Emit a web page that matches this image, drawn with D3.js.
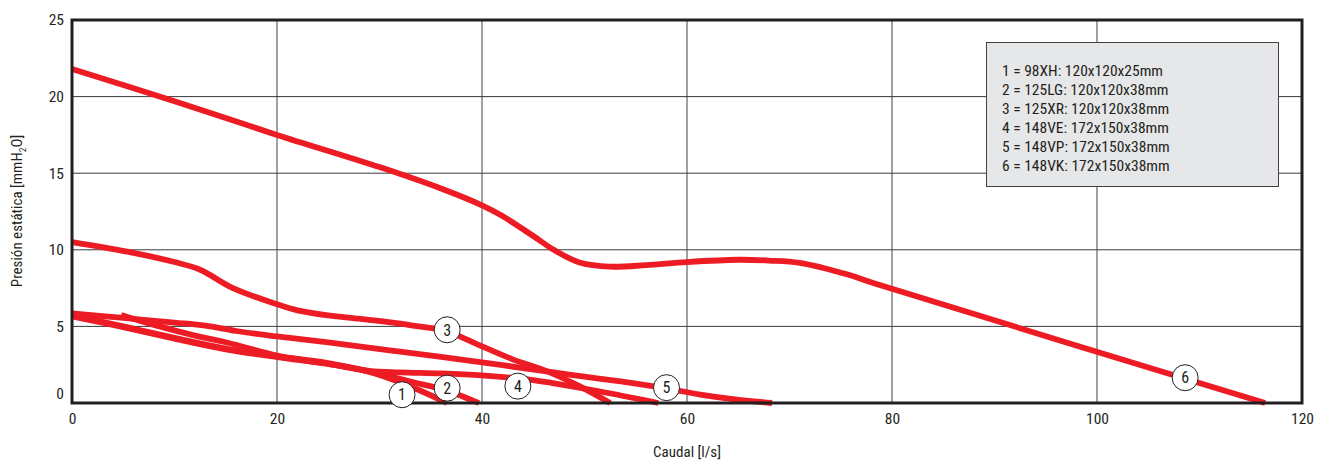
<!DOCTYPE html>
<html><head><meta charset="utf-8">
<script src="https://cdn.jsdelivr.net/npm/d3@7"></script>
<style>
body{margin:0;background:#fff;}
text{font-family:"Roboto Condensed","Liberation Sans Narrow","DejaVu Sans Condensed",Roboto,sans-serif;fill:#231f20;}
</style></head>
<body><svg id="c" width="1329" height="464"></svg>
<script>
const xTicks = [0, 20, 40, 60, 80, 100, 120];
const yTicks = [0, 5, 10, 15, 20, 25];
const legendLines = [
  "1 = 98XH: 120x120x25mm",
  "2 = 125LG: 120x120x38mm",
  "3 = 125XR: 120x120x38mm",
  "4 = 148VE: 172x150x38mm",
  "5 = 148VP: 172x150x38mm",
  "6 = 148VK: 172x150x38mm"
];
const curve1 = [[0,5.65],[5,4.95],[10,4.2],[15,3.5],[20,3.0],[25,2.55],[28,2.2],[31,1.6],[34,0.8],[36.6,0]];
const curve2 = [[0,5.75],[5,5.0],[10,4.25],[15,3.55],[20,3.05],[25,2.6],[29,2.05],[33,1.4],[36.6,0.8],[39.7,0]];
const curve3 = [[0,10.5],[6,9.8],[10,9.2],[12.5,8.7],[15.7,7.5],[20,6.45],[22,6.05],[25,5.72],[28,5.5],[31.3,5.25],[34,4.98],[36.6,4.72],[38,4.3],[40,3.7],[43,2.85],[46.6,2.0],[49.5,1.1],[52.5,0]];
const curve4 = [[4.8,5.75],[8,5.1],[12,4.4],[15.2,3.93],[20,3.1],[25,2.55],[29,2.1],[32,2.0],[36,1.93],[40,1.8],[45,1.5],[51.5,0.75],[57.2,0]];
const curve5 = [[0,5.85],[5,5.55],[10,5.25],[13,5.05],[16,4.7],[20,4.35],[25,3.95],[32,3.35],[40,2.65],[47,2.0],[50,1.72],[54.7,1.3],[58,0.95],[61.3,0.55],[64.5,0.25],[68.3,0]];
const curve6 = [[0,21.8],[10,19.7],[20,17.5],[30,15.4],[36,14.0],[40,12.9],[42,12.2],[45,10.9],[47,10.0],[49.6,9.15],[52.5,8.9],[56,9.0],[60,9.2],[65,9.35],[68,9.3],[71,9.15],[75.6,8.4],[78.8,7.7],[116.4,0]];
const curves = [curve1, curve2, curve3, curve4, curve5, curve6];
const labelNames = ["1","2","3","4","5","6"];
const labelPos = [[32.2,0.54],[36.6,0.97],[36.6,4.78],[43.5,1.1],[58,1.0],[108.6,1.65]];

const svg = d3.select("#c");
const x = d3.scaleLinear().domain([0,120]).range([72,1302]);
const y = d3.scaleLinear().domain([0,25]).range([403,20]);

// grid
svg.append("g").selectAll("line").data(xTicks.slice(1,-1)).join("line")
  .attr("x1",d=>x(d)).attr("x2",d=>x(d)).attr("y1",y(25)).attr("y2",y(0))
  .attr("stroke","#6d6e71").attr("stroke-width",1.3);
svg.append("g").selectAll("line").data(yTicks.slice(1,-1)).join("line")
  .attr("x1",x(0)).attr("x2",x(120)).attr("y1",d=>y(d)).attr("y2",d=>y(d))
  .attr("stroke","#3a3a3a").attr("stroke-width",1);

// legend box
const lg = svg.append("g");
lg.append("rect").attr("x",986.5).attr("y",42.5).attr("width",292).attr("height",144)
  .attr("fill","#e6e7e8").attr("stroke","#414042").attr("stroke-width",1);
lg.selectAll("text").data(legendLines).join("text")
  .attr("x",1002).attr("y",(d,i)=>76+i*19).attr("font-size",15.5).text(d=>d);

// curves
const line = d3.line().x(d=>x(d[0])).y(d=>y(d[1])).curve(d3.curveCatmullRom.alpha(0.5));
svg.append("g").selectAll("path").data(curves).join("path")
  .attr("d",line).attr("fill","none").attr("stroke","#ed1c24")
  .attr("stroke-width",5.8).attr("stroke-linejoin","round");

// frame
svg.append("rect").attr("x",x(0)).attr("y",y(25)).attr("width",x(120)-x(0)).attr("height",y(0)-y(25))
  .attr("fill","none").attr("stroke","#231f20").attr("stroke-width",3);

// labels
const lb = svg.append("g").selectAll("g").data(labelPos).join("g")
  .attr("transform",d=>`translate(${x(d[0])},${y(d[1])})`);
lb.append("circle").attr("r",13).attr("fill","#fff").attr("stroke","#231f20").attr("stroke-width",1);
lb.append("text").attr("text-anchor","middle").attr("dy","0.36em").attr("font-size",16)
  .text((d,i)=>labelNames[i]);

// axes
const xAxis = d3.axisBottom(x).tickValues(xTicks).tickSize(0).tickPadding(10);
const gx = svg.append("g").attr("transform",`translate(0,${y(0)})`).call(xAxis);
gx.select(".domain").remove();
gx.selectAll("text").attr("font-size",15.5).attr("fill","#231f20").attr("font-family",null);
const yAxis = d3.axisLeft(y).tickValues(yTicks).tickSize(0).tickPadding(8);
const gy = svg.append("g").attr("transform",`translate(${x(0)},0)`).call(yAxis);
gy.select(".domain").remove();
gy.selectAll("text").attr("font-size",15.5).attr("fill","#231f20").attr("font-family",null)
  .attr("dy",d=>d===0?"-0.3em":"0.32em");

// titles
svg.append("text").attr("x",(x(0)+x(120))/2).attr("y",457).attr("text-anchor","middle")
  .attr("font-size",15).text("Caudal [l/s]");
const yt = svg.append("text").attr("transform","translate(22,211) rotate(-90)")
  .attr("text-anchor","middle").attr("font-size",15);
yt.append("tspan").text("Presión estática [mmH");
yt.append("tspan").attr("font-size",9.5).attr("dy",4).text("2");
yt.append("tspan").attr("dy",-4).text("O]");
</script></body></html>
